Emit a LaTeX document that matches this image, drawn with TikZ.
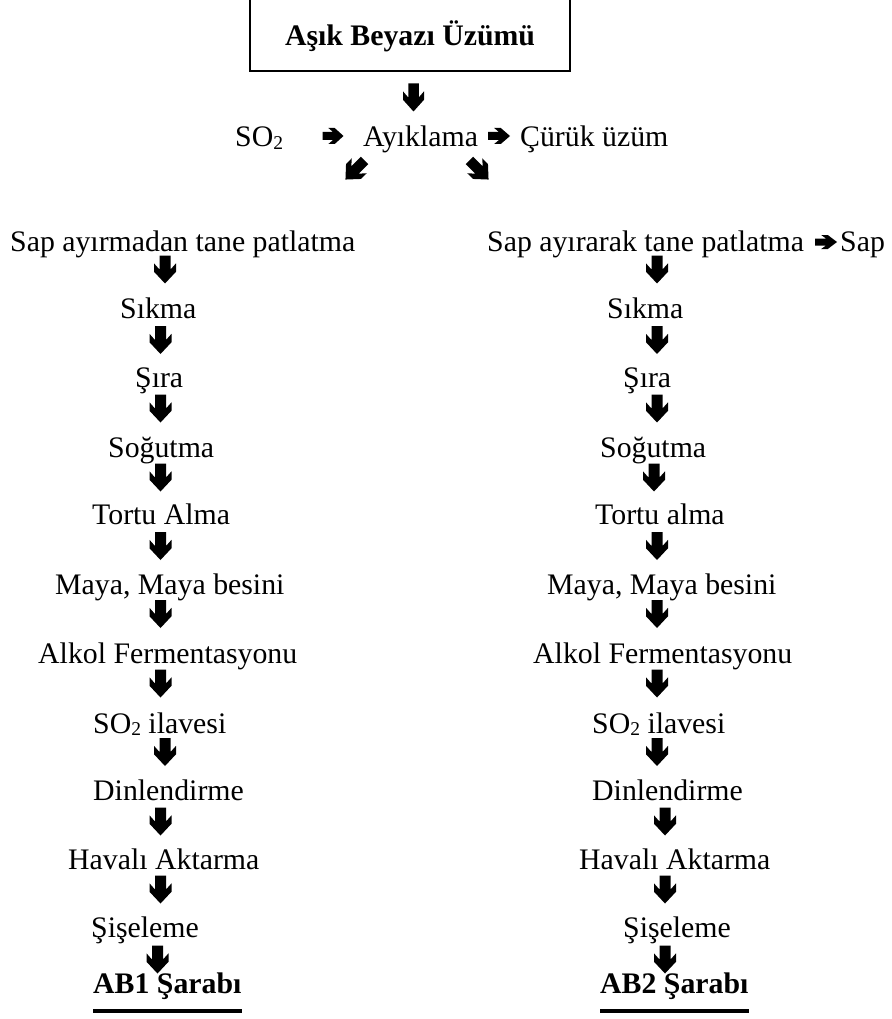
\documentclass[tikz,border=0pt]{standalone}
\usepackage{fontspec}
\setmainfont{Liberation Serif}
% chemical subscript set the way the word processor places it
\newcommand{\lowtwo}{\raisebox{-2.5pt}{\fontsize{19.5}{20}\selectfont 2}}
\begin{document}
\begin{tikzpicture}[x=1pt, y=-1pt,
  txt/.style={anchor=base west, inner sep=0pt, font=\fontsize{29.8}{34}\selectfont},
  head/.style={txt, font=\fontsize{29.8}{34}\selectfont\bfseries},
  % thick block arrow, unit size, centred on its origin, pointing down
  fatarrow/.pic={
    \fill (-0.25,-0.5) -- (0.25,-0.5) -- (0.25,0.0) -- (0.5,-0.22) -- (0.5,0.08)
      -- (0,0.5) -- (-0.5,0.08) -- (-0.5,-0.22) -- (-0.25,0.0) -- cycle;
  },
  down/.style={xscale=22, yscale=28},
  right/.style={rotate=90, xscale=15, yscale=21}
]
\useasboundingbox (0,0) rectangle (891,1019);
\clip (0,0) rectangle (891,1019);

% raw material box
\node[draw, line width=1.4pt, minimum width=320pt, minimum height=76pt, inner sep=0pt,
      text depth=0pt, font=\fontsize{29.8}{34}\selectfont\bfseries] (grape) at (410,33) {Aşık Beyazı Üzümü};

% sorting step
\node[txt] (so2)  at (235,147) {SO\lowtwo};
\node[txt] (ayk)  at (363,147) {Ayıklama};
\node[txt] (rot)  at (520,147) {Çürük üzüm};

\pic[down, xscale=21/22] at (413.5,97.5) {fatarrow};
\pic[right, xscale=16/15] at (333,136) {fatarrow};
\pic[right, xscale=16/15, yscale=22/21] at (499,136) {fatarrow};
\begin{scope}
  \clip (300,150) rectangle (520,180);
  \pic[rotate=-45, xscale=21, yscale=27] at (355,170) {fatarrow};
  \pic[rotate=45, xscale=21, yscale=27] at (479,170) {fatarrow};
\end{scope}

% line without destemming
\node[txt] (l1)  at (10,251)  {Sap ayırmadan tane patlatma};
\node[txt] (l2)  at (120,318) {Sıkma};
\node[txt] (l3)  at (135,387) {Şıra};
\node[txt] (l4)  at (108,457) {Soğutma};
\node[txt] (l5)  at (92,524)  {Tortu Alma};
\node[txt] (l6)  at (55,594)  {Maya, Maya besini};
\node[txt] (l7)  at (38,663)  {Alkol Fermentasyonu};
\node[txt] (l8)  at (93,733)  {SO\lowtwo{} ilavesi};
\node[txt] (l9)  at (93,800)  {Dinlendirme};
\node[txt] (l10) at (68,869)  {Havalı Aktarma};
\node[txt] (l11) at (91,937)  {Şişeleme};
\node[head] (l12) at (93,993) {AB1 Şarabı};
\draw[line width=4pt] ([yshift=-18pt]l12.base west) -- ([yshift=-18pt]l12.base east);

\foreach \x/\y in {165/269.5, 160.5/340, 160.5/408.5, 160.5/477.5, 160.5/546, 160.5/614,
                   160.5/683.5, 165/752, 160.5/821.5, 160.5/889.5, 157.5/959.5}
  \pic[down] at (\x,\y) {fatarrow};

% line with destemming
\node[txt] (r1)  at (487,251) {Sap ayırarak tane patlatma};
\node[txt] (stem) at (840,251) {Sap};
\pic[right, xscale=14/15, yscale=22/21] at (826,242) {fatarrow};
\node[txt] (r2)  at (607,318) {Sıkma};
\node[txt] (r3)  at (623,387) {Şıra};
\node[txt] (r4)  at (600,457) {Soğutma};
\node[txt] (r5)  at (595,524) {Tortu alma};
\node[txt] (r6)  at (547,594) {Maya, Maya besini};
\node[txt] (r7)  at (533,663) {Alkol Fermentasyonu};
\node[txt] (r8)  at (592,733) {SO\lowtwo{} ilavesi};
\node[txt] (r9)  at (592,800) {Dinlendirme};
\node[txt] (r10) at (579,869) {Havalı Aktarma};
\node[txt] (r11) at (623,937) {Şişeleme};
\node[head] (r12) at (600,993) {AB2 Şarabı};
\draw[line width=4pt] ([yshift=-18pt]r12.base west) -- ([yshift=-18pt]r12.base east);

\foreach \x/\y in {657/269.5, 657/340, 657/408.5, 654/477.5, 657/546, 657/614,
                   657/683.5, 657/752, 665/821.5, 665/889.5, 665/959.5}
  \pic[down] at (\x,\y) {fatarrow};
\end{tikzpicture}
\end{document}
